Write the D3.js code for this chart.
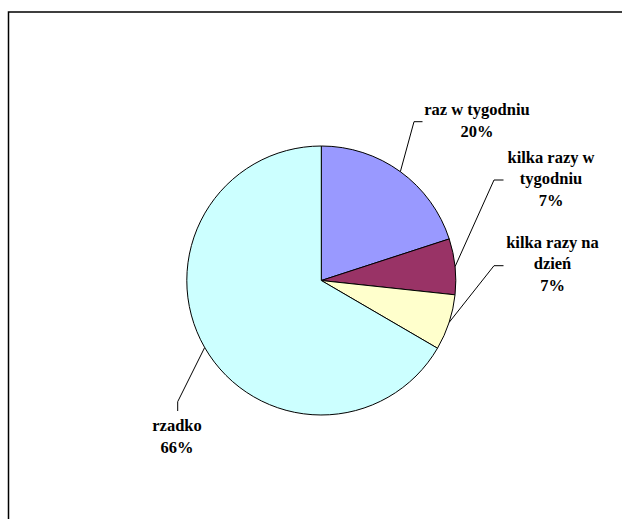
<!DOCTYPE html>
<html><head><meta charset="utf-8">
<script src="https://cdn.jsdelivr.net/npm/d3@7"></script>
<style>body{margin:0;background:#fff} text{font-family:"Liberation Serif","Times New Roman",serif;}</style>
</head><body>
<script>
const categories = ["raz w tygodniu", "kilka razy w tygodniu", "kilka razy na dzień", "rzadko"];
const values = [20, 6.7, 6.7, 66.6];
const percentLabels = ["20%", "7%", "7%", "66%"];
const colors = ["#9999FF", "#993366", "#FFFFCC", "#CCFFFF"];
const labelLines = [["raz w tygodniu", "20%"], ["kilka razy w", "tygodniu", "7%"], ["kilka razy na", "dzień", "7%"], ["rzadko", "66%"]];

const W = 622, H = 519;
const svg = d3.select("body").append("svg").attr("width", W).attr("height", H);
svg.append("rect").attr("x", 8.5).attr("y", 12).attr("width", 700).attr("height", 600)
  .attr("fill", "#fff").attr("stroke", "#000").attr("stroke-width", 1.5);

const cx = 321.3, cy = 280.5, r = 134.5;
const pie = d3.pie().sort(null).value(d => d)(values);
const arc = d3.arc().innerRadius(0).outerRadius(r);
const g = svg.append("g").attr("transform", `translate(${cx},${cy})`);
g.selectAll("path").data(pie).join("path")
  .attr("d", arc).attr("fill", (d, i) => colors[i])
  .attr("stroke", "#000").attr("stroke-width", 1);

const labelPos = [
  {x: 477, y: 115, elbow: [414, 121.7], end: [422.5, 121.7]},
  {x: 551, y: 162.5, elbow: [494, 180], end: [503.5, 180]},
  {x: 552.5, y: 247.5, elbow: [494, 265.7], end: [503.5, 265.7]},
  {x: 177, y: 431, elbow: [177.7, 401.7], end: [177.7, 411]}
];
const lh = 21.5;
pie.forEach((d, i) => {
  const a = (d.startAngle + d.endAngle) / 2;
  const p0 = [cx + r * Math.sin(a), cy - r * Math.cos(a)];
  const lp = labelPos[i];
  svg.append("polyline")
    .attr("points", [p0, lp.elbow, lp.end].map(p => p.join(",")).join(" "))
    .attr("fill", "none").attr("stroke", "#000").attr("stroke-width", 1);
  const t = svg.append("text").attr("text-anchor", "middle")
    .attr("font-weight", "bold").attr("font-size", 16.5).attr("fill", "#000");
  labelLines[i].forEach((s, j) => {
    t.append("tspan").attr("x", lp.x).attr("y", lp.y + j * lh).text(s);
  });
});
</script>
</body></html>
